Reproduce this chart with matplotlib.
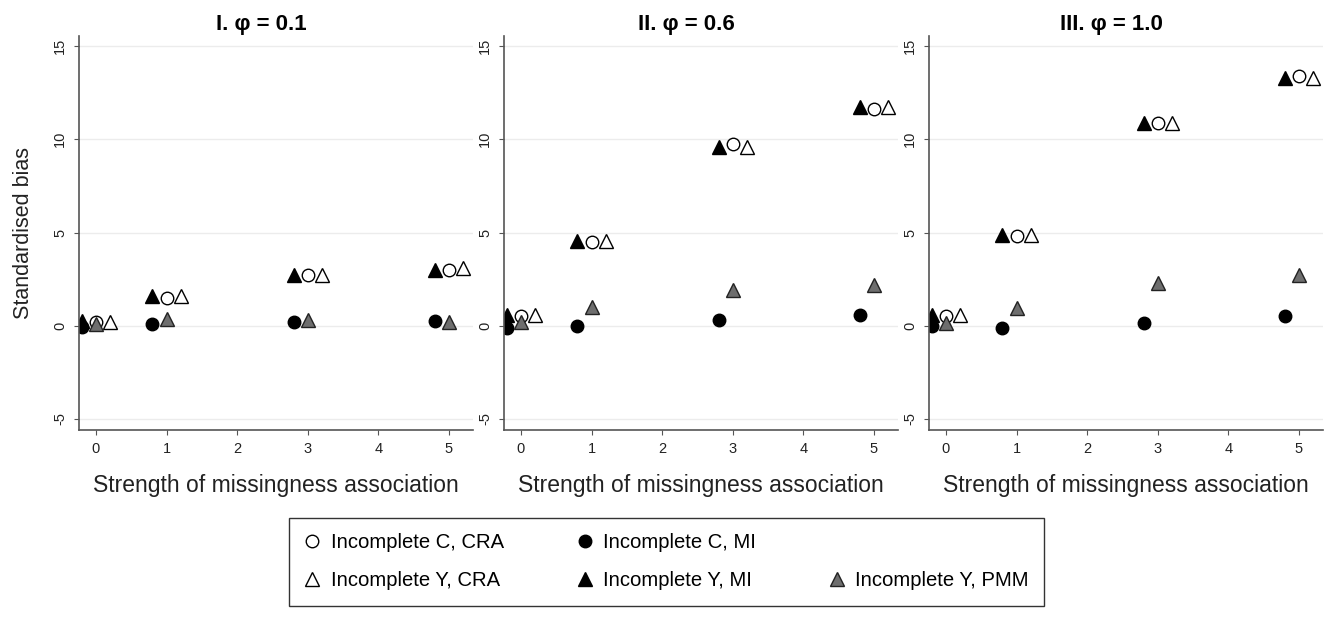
import matplotlib
matplotlib.use("Agg")
import matplotlib.pyplot as plt
from matplotlib.lines import Line2D

plt.rcParams['font.family'] = ['Liberation Sans', 'DejaVu Sans']

# Strength of missingness association
strength = [0, 1, 3, 5]
titles = ["I. \u03c6 = 0.1", "II. \u03c6 = 0.6", "III. \u03c6 = 1.0"]

# standardised bias per panel
c_cra = [[0.18, 1.5, 2.7, 3.0], [0.5, 4.5, 9.75, 11.65], [0.55, 4.8, 10.9, 13.4]]
c_mi = [[-0.07, 0.1, 0.2, 0.25], [-0.1, 0.0, 0.32, 0.6], [-0.03, -0.12, 0.16, 0.5]]
y_cra = [[0.2, 1.6, 2.7, 3.1], [0.6, 4.57, 9.6, 11.75], [0.6, 4.87, 10.9, 13.3]]
y_mi = [[0.23, 1.6, 2.7, 3.0], [0.6, 4.57, 9.6, 11.75], [0.6, 4.87, 10.86, 13.3]]
y_pmm = [[0.1, 0.35, 0.3, 0.18], [0.18, 1.0, 1.9, 2.2], [0.15, 0.95, 2.3, 2.7]]

W, H = 1333, 641
fig = plt.figure(figsize=(W / 100, H / 100), dpi=100)

lefts = [79, 504, 929]
spine_col = "#555555"
ms_tri = 10.5
ms_circ = 9

for i in range(3):
    ax = fig.add_axes([lefts[i] / W, 1 - 430 / H, 394 / W, 394 / H])
    xm = [x - 0.2 for x in strength]
    xp = [x + 0.2 for x in strength]
    ax.plot(strength, c_cra[i], ls="none", marker="o", ms=ms_circ, mfc="white", mec="black", mew=1)
    ax.plot(xm, c_mi[i], ls="none", marker="o", ms=ms_circ, mfc="black", mec="black", mew=1)
    ax.plot(xp, y_cra[i], ls="none", marker="^", ms=ms_tri, mfc="white", mec="black", mew=1)
    ax.plot(xm, y_mi[i], ls="none", marker="^", ms=ms_tri, mfc="black", mec="black", mew=1)
    ax.plot(strength, y_pmm[i], ls="none", marker="^", ms=ms_tri, mfc="#6e6e6e", mec="#222222", mew=1)

    ax.set_xlim(-0.24, 5.34)
    ax.set_ylim(-5.59, 15.54)
    ax.set_xticks([0, 1, 2, 3, 4, 5])
    ax.set_yticks([-5, 0, 5, 10, 15])
    ax.set_yticklabels(["-5", "0", "5", "10", "15"], rotation=90, va="center")
    ax.grid(axis="y", color="#ececec", lw=1)
    ax.set_axisbelow(True)
    for s in ["top", "right"]:
        ax.spines[s].set_visible(False)
    for s in ["left", "bottom"]:
        ax.spines[s].set_color(spine_col)
        ax.spines[s].set_linewidth(1.2)
    ax.tick_params(colors=spine_col, labelcolor="#222222", labelsize=10.5, length=3.6, pad=5)
    ax.set_xlabel("Strength of missingness association", fontsize=16.5, color="#222222", labelpad=13)
    ax.set_title(titles[i], fontsize=16, fontweight="bold", pad=4, x=0.462)
    if i == 0:
        ax.set_ylabel("Standardised bias", fontsize=15.5, color="#222222", labelpad=14)

handles = [
    Line2D([], [], ls="none", marker="o", ms=ms_circ, mfc="white", mec="black"),
    Line2D([], [], ls="none", marker="^", ms=ms_tri, mfc="white", mec="black"),
    Line2D([], [], ls="none", marker="o", ms=ms_circ, mfc="black", mec="black"),
    Line2D([], [], ls="none", marker="^", ms=ms_tri, mfc="black", mec="black"),
    Line2D([], [], ls="none", marker=None),
    Line2D([], [], ls="none", marker="^", ms=ms_tri, mfc="#6e6e6e", mec="#222222"),
]
labels = ["Incomplete C, CRA", "Incomplete Y, CRA", "Incomplete C, MI",
          "Incomplete Y, MI", "", "Incomplete Y, PMM"]
leg = fig.legend(handles, labels, ncol=3, loc="upper center", bbox_to_anchor=(0.5, 1 - 518 / H),
                 fontsize=14.6, frameon=True, fancybox=False, edgecolor="black",
                 handlelength=0.8, handletextpad=0.5, columnspacing=3.6, labelspacing=0.95,
                 borderpad=0.75, borderaxespad=0)
leg.get_frame().set_linewidth(1.0)

fig.savefig("out.png", dpi=100)
